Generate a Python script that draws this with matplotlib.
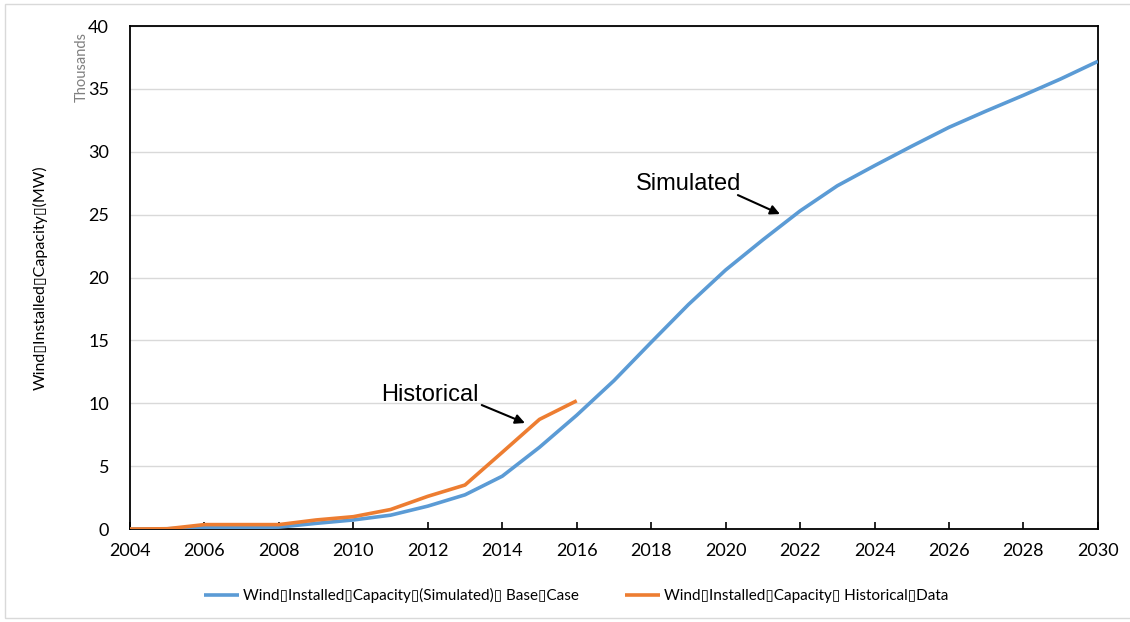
import matplotlib.pyplot as plt
from matplotlib.patches import Rectangle

# ---------------------------------------------------------------
# datos (miles de MW)
# ---------------------------------------------------------------
anios_sim = list(range(2004, 2031))
capacidad_sim = [0.0, 0.02, 0.1, 0.12, 0.15, 0.45, 0.72, 1.1, 1.82, 2.72,
                 4.2, 6.5, 9.05, 11.8, 14.85, 17.85, 20.6, 23.0, 25.3,
                 27.3, 28.9, 30.45, 31.95, 33.25, 34.5, 35.8, 37.2]

anios_hist = list(range(2004, 2017))
capacidad_hist = [0.0, 0.02, 0.35, 0.35, 0.35, 0.72, 0.98, 1.55, 2.6,
                  3.5, 6.1, 8.72, 10.2]

SEP = "\u25af"
etiqueta_sim = f"Wind{SEP}Installed{SEP}Capacity{SEP}(Simulated){SEP} Base{SEP}Case"
etiqueta_hist = f"Wind{SEP}Installed{SEP}Capacity{SEP} Historical{SEP}Data"
etiqueta_y = f"Wind{SEP}Installed{SEP}Capacity{SEP}(MW)"

FUENTE = ['Lato', 'DejaVu Sans']
plt.rcParams['font.family'] = ['Liberation Sans', 'DejaVu Sans']

fig = plt.figure(figsize=(11.3, 6.22), dpi=100)
ax = fig.add_axes([0.115, 0.1495, 0.8566, 0.8085])

# marco gris exterior
fig.patches.append(Rectangle((0.004, 0.006), 1.2, 0.988, transform=fig.transFigure,
                             fill=False, edgecolor='#d9d9d9', linewidth=1))

ax.plot(anios_sim, capacidad_sim, color='#5b9bd5', lw=2.6,
        label=etiqueta_sim, zorder=3, solid_capstyle='butt')
ax.plot(anios_hist, capacidad_hist, color='#ed7d31', lw=2.6,
        label=etiqueta_hist, zorder=4, solid_capstyle='butt')

ax.set_xlim(2004, 2030)
ax.set_ylim(0, 40)
ax.set_xticks(range(2004, 2031, 2))
ax.set_yticks(range(0, 41, 5))
ax.tick_params(axis='x', direction='in', length=5, width=1.2, labelsize=13, pad=10)
ax.tick_params(axis='y', length=0, labelsize=13, pad=15)
for lab in ax.get_xticklabels() + ax.get_yticklabels():
    lab.set_fontfamily(FUENTE)
ax.grid(axis='y', color='#d9d9d9', lw=1)
ax.set_axisbelow(True)
for s in ax.spines.values():
    s.set_color('black')
    s.set_linewidth(1.3)

ax.set_ylabel(etiqueta_y, fontsize=11.5, labelpad=29, family=FUENTE)
fig.text(0.072, 0.949, "Thousands", rotation=90, ha='center', va='top',
         fontsize=10.5, color='#7f7f7f', family=FUENTE)

# anotaciones
ax.text(2010.74, 10.66, "Historical", fontsize=17, ha='left', va='center')
ax.annotate("", xy=(2014.61, 8.43), xytext=(2013.45, 9.86),
            arrowprops=dict(arrowstyle='-|>', color='black', lw=1.5,
                            mutation_scale=14, shrinkA=0, shrinkB=0))
ax.text(2017.59, 27.43, "Simulated", fontsize=17, ha='left', va='center')
ax.annotate("", xy=(2021.46, 25.05), xytext=(2020.33, 26.56),
            arrowprops=dict(arrowstyle='-|>', color='black', lw=1.5,
                            mutation_scale=14, shrinkA=0, shrinkB=0))

h, l = ax.get_legend_handles_labels()
fig.legend(h, l, loc='center', bbox_to_anchor=(0.51, 0.042), ncol=2,
           frameon=False, handlelength=2.3, handletextpad=0.25, columnspacing=3.0,
           prop={'family': FUENTE, 'size': 11})

fig.savefig('out.png', dpi=100)
